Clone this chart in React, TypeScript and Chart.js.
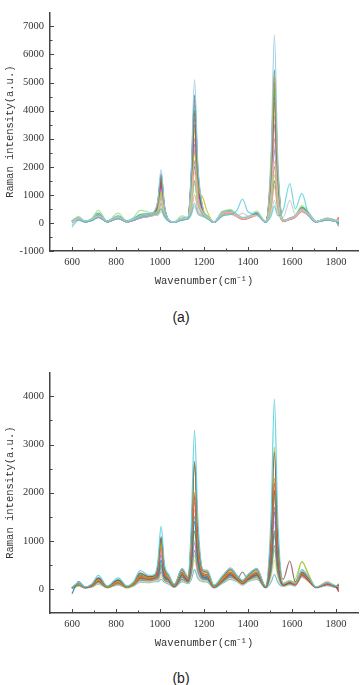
import React, { useEffect, useRef } from "react";
import { Chart, registerables } from "chart.js";
Chart.register(...registerables);

// Wavenumber sample positions (cm^-1), shared by all spectra
const wavenumbers = [600,630,660,690,720,760,810,850,880,910,950,975,990,1005,1020,1040,1065,1100,1128,1142,1157,1172,1195,1215,1245,1285,1320,1350,1375,1400,1440,1480,1505,1520,1535,1560,1590,1615,1645,1675,1710,1760,1800,1812];

// Tick values
const xMajorTicks = [600, 800, 1000, 1200, 1400, 1600, 1800];
const xMinorTicks = [700, 900, 1100, 1300, 1500, 1700];
const yMajorA = [-1000, 0, 1000, 2000, 3000, 4000, 5000, 6000, 7000];
const yMinorA = [-500, 500, 1500, 2500, 3500, 4500, 5500, 6500];
const yMajorB = [0, 1000, 2000, 3000, 4000];
const yMinorB = [500, 1500, 2500, 3500];

// ---- Panel (a) spectra ----
const a1 = [-80,200,70,150,320,60,230,60,150,260,320,420,800,1900,650,110,30,160,220,1900,5100,2100,550,260,30,420,430,300,200,230,380,40,2500,6700,2400,90,160,260,480,320,40,150,70,120];
const a2 = [60,170,50,120,280,50,200,50,130,230,300,400,740,1750,600,100,20,140,200,1700,4550,1900,480,230,20,380,420,280,170,210,350,30,2100,5450,2000,80,150,240,500,330,40,140,60,-50];
const a3 = [40,160,60,110,260,60,190,60,120,220,280,380,720,1700,580,90,30,150,190,1650,4400,1850,500,240,30,360,400,260,160,190,330,40,2000,5200,1950,90,160,250,520,340,50,150,70,150];
const a4 = [80,190,60,140,350,70,250,70,160,300,330,390,700,1650,560,100,40,170,210,1500,4000,1700,460,220,30,400,450,300,180,200,360,40,1850,4800,1800,90,170,270,560,360,50,160,80,30];
const a5 = [30,150,50,110,240,50,180,50,110,210,270,350,640,1500,520,80,20,130,180,1480,3900,1650,430,210,20,340,380,250,150,180,320,30,1900,5000,1850,70,140,230,480,310,40,130,60,200];
const a6 = [50,140,40,100,220,40,170,40,100,190,250,330,600,1400,480,70,20,120,170,1400,3700,1550,400,200,20,320,360,240,140,170,300,30,1720,4500,1680,60,130,220,450,290,40,120,50,-30];
const a7 = [70,170,60,130,300,60,220,60,140,250,290,380,680,1600,540,90,30,150,200,1330,3500,1500,420,220,30,370,410,270,160,190,340,40,1650,4300,1600,80,150,240,470,310,40,140,70,100];
const a8 = [40,130,40,90,200,40,150,40,90,170,230,300,520,1200,420,60,20,110,150,1150,3000,1300,360,180,20,300,340,220,130,160,280,30,1450,3800,1420,60,120,200,420,270,30,110,50,160];
const a9 = [20,120,40,90,210,40,160,40,100,180,240,320,560,1300,450,70,20,120,160,1070,2800,1220,370,190,20,310,350,230,140,170,290,30,1350,3500,1300,60,130,210,430,280,40,120,50,-120];
const a10 = [50,150,50,110,250,50,190,50,120,210,260,340,480,1100,400,80,30,140,170,950,2500,1300,900,400,40,380,420,260,150,180,310,40,2000,5300,1950,70,140,230,460,300,40,130,60,80];
const a11 = [-150,100,30,80,200,40,150,40,100,200,250,300,350,500,250,60,20,100,150,330,700,350,250,150,20,250,300,450,850,400,300,30,250,600,250,450,1400,500,1050,300,30,100,50,0];
const a12 = [60,160,50,120,260,50,200,50,130,220,270,330,400,900,330,80,30,150,180,850,2200,950,350,200,30,350,380,250,150,180,300,40,1050,2700,1000,80,150,230,450,290,40,130,60,50];
const a13 = [30,140,40,100,230,40,180,40,110,200,250,310,370,800,310,70,30,140,170,700,1800,800,380,200,30,330,370,240,140,170,290,40,850,2200,820,70,140,220,430,280,40,120,60,90];
const a14 = [50,230,60,160,450,60,350,60,200,450,380,350,330,600,270,60,30,250,180,560,1400,650,330,180,30,380,480,300,180,210,420,40,660,1700,640,80,160,260,620,380,50,180,70,60];
const a15 = [20,120,40,90,200,40,150,40,100,180,220,280,280,500,230,60,20,120,150,400,1000,460,280,170,20,290,330,220,130,160,270,30,500,1300,480,60,120,200,400,260,30,110,50,180];
const a16 = [40,140,40,100,220,40,170,40,110,190,230,270,270,400,200,60,20,110,140,270,600,300,220,150,20,260,300,230,350,250,260,30,330,800,320,200,800,300,500,280,40,120,60,-80];
const a17 = [50,150,50,110,240,50,190,50,120,200,260,330,450,1000,380,70,20,130,170,1250,3300,1400,400,200,20,330,370,240,140,170,300,30,1570,4100,1530,70,140,220,440,290,40,120,60,20];
const a18 = [60,160,50,120,270,50,200,50,130,220,280,370,660,1550,530,80,30,140,190,1600,4200,1800,450,220,30,360,400,260,160,190,330,40,1760,4600,1720,80,150,240,490,320,40,140,60,130];
const a19 = [40,150,50,110,240,50,180,50,110,200,260,340,580,1350,470,80,20,130,170,850,2200,970,330,190,20,330,370,240,150,180,300,30,1000,2600,980,70,140,220,440,290,40,130,60,170];
const a20 = [30,130,40,100,220,40,170,40,100,190,240,300,330,700,270,70,20,120,160,580,1500,680,300,170,20,310,350,230,140,170,280,30,770,2000,750,60,130,210,420,270,40,120,50,40];
const a21 = [50,140,40,100,230,40,170,40,110,190,240,320,400,900,330,70,20,120,160,770,2000,880,320,180,20,310,350,240,140,170,290,30,580,1500,570,60,130,210,420,270,40,120,50,110];
const a22 = [40,140,40,100,220,40,170,40,100,190,250,320,540,1250,440,70,20,120,160,1000,2600,1130,340,190,20,320,360,240,140,170,290,30,1150,3000,1120,60,130,210,430,280,40,120,50,-20];

// ---- Panel (b) spectra ----
const b1 = [30,130,40,100,280,60,230,60,150,380,280,300,560,1300,520,300,100,420,250,1300,3300,1450,400,380,80,280,430,280,180,300,420,60,1550,3950,1500,120,180,120,380,250,40,130,60,50];
const b2 = [20,120,30,80,220,50,180,50,130,330,250,280,460,1050,430,280,90,400,230,1050,2650,1180,380,350,70,250,400,260,160,280,400,50,1120,2850,1080,200,580,150,350,230,30,120,50,80];
const b3 = [30,110,30,80,200,40,160,40,120,300,240,270,440,1000,410,250,80,380,220,1030,2600,1150,350,330,60,230,380,250,150,260,380,50,1150,2950,1120,110,160,130,570,300,30,130,60,40];
const b4 = [10,100,30,70,190,40,150,40,110,280,230,260,470,1080,430,240,80,350,200,1020,2600,1150,320,300,60,210,350,230,140,240,350,50,800,2050,780,100,150,110,330,210,30,110,50,30];
const b5 = [20,100,30,70,180,40,140,40,100,250,220,250,400,900,370,220,70,330,200,800,2000,900,300,280,50,200,340,220,130,230,340,40,900,2300,880,100,150,100,320,200,30,110,50,90];
const b6 = [20,100,30,70,170,40,140,40,100,240,210,240,380,850,350,210,70,320,190,780,1950,880,290,270,50,200,330,210,130,220,330,40,860,2200,840,90,140,100,310,190,30,100,50,-60];
const b7 = [30,110,30,80,190,40,150,40,110,260,220,240,320,700,300,200,60,300,180,720,1800,800,280,260,50,190,320,210,120,210,320,40,670,1700,650,90,130,100,300,190,30,100,40,60];
const b8 = [-100,150,40,90,230,50,190,50,120,300,250,260,300,600,270,190,60,280,170,560,1400,640,250,230,40,180,300,200,120,200,300,40,630,1600,610,90,130,100,320,200,30,110,50,20];
const b9 = [20,90,30,60,160,30,130,30,90,220,200,220,260,500,240,170,50,250,160,480,1200,550,230,210,40,170,280,190,110,190,280,30,480,1200,460,80,120,90,290,180,30,100,40,70];
const b10 = [10,80,20,50,140,30,110,30,80,200,180,200,220,400,210,150,50,230,150,390,950,450,210,200,40,160,260,180,100,180,270,30,460,1150,440,70,110,80,270,170,30,90,40,110];
const b11 = [20,80,20,50,140,30,110,30,80,180,170,190,210,350,190,140,40,200,140,330,800,380,200,190,30,150,250,200,350,200,250,30,360,900,350,70,110,80,260,160,30,90,40,-40];
const b12 = [20,70,20,50,120,30,100,30,70,170,160,180,190,300,180,130,40,190,130,300,700,340,190,180,30,140,240,170,100,170,240,30,330,800,320,60,100,200,560,300,30,90,40,50];
const b13 = [10,60,20,40,110,20,90,20,60,150,140,160,170,250,160,120,40,170,120,260,600,300,170,160,30,130,220,160,90,160,220,30,250,600,240,60,100,70,240,150,20,80,30,90];
const b14 = [10,60,20,40,100,20,80,20,60,140,130,150,150,200,140,100,30,150,110,190,400,220,150,140,20,120,200,150,80,150,200,20,140,300,140,50,90,60,400,250,20,70,30,30];
const b15 = [20,100,30,70,200,40,160,40,110,270,230,250,240,450,230,200,60,300,180,600,1500,690,260,250,40,190,330,220,130,230,340,40,740,1900,720,90,140,100,330,210,30,110,50,0];
const b16 = [20,100,30,70,180,40,140,40,100,260,230,260,440,1000,400,230,70,340,200,770,1900,860,300,280,50,200,340,220,130,230,340,40,780,2000,760,90,140,100,320,200,30,110,50,100];
const b17 = [30,120,30,80,230,40,190,40,130,330,260,270,340,750,320,250,80,420,260,680,1650,780,400,390,60,260,440,290,170,290,430,50,450,1100,440,90,140,100,350,220,30,150,60,60];
const b18 = [10,90,20,60,150,30,120,30,90,220,190,210,270,550,250,170,50,260,160,420,1000,470,230,220,40,170,290,200,110,200,290,30,550,1400,540,70,110,80,280,170,30,100,40,-20];

const seriesA = [
  { color: "rgba(158,202,225,0.9)", values: a1 },
  { color: "rgba(23,190,207,0.6)", values: a11 },
  { color: "rgba(199,199,199,0.8)", values: a16 },
  { color: "rgba(152,223,138,0.8)", values: a14 },
  { color: "rgba(255,152,150,0.8)", values: a15 },
  { color: "rgba(255,187,120,0.8)", values: a13 },
  { color: "rgba(174,199,232,0.85)", values: a12 },
  { color: "rgba(188,189,34,0.8)", values: a10 },
  { color: "rgba(31,119,180,0.85)", values: a2 },
  { color: "rgba(255,127,14,0.85)", values: a3 },
  { color: "rgba(44,160,44,0.85)", values: a4 },
  { color: "rgba(214,39,40,0.85)", values: a5 },
  { color: "rgba(148,103,189,0.85)", values: a6 },
  { color: "rgba(140,86,75,0.85)", values: a7 },
  { color: "rgba(227,119,194,0.85)", values: a8 },
  { color: "rgba(127,127,127,0.85)", values: a9 },
  { color: "rgba(188,189,34,0.85)", values: a17 },
  { color: "rgba(23,190,207,0.85)", values: a18 },
  { color: "rgba(214,39,40,0.85)", values: a19 },
  { color: "rgba(148,103,189,0.85)", values: a20 },
  { color: "rgba(140,86,75,0.85)", values: a21 },
  { color: "rgba(227,119,194,0.85)", values: a22 },
];

const seriesB = [
  { color: "rgba(95,211,224,0.95)", values: b1 },
  { color: "rgba(140,86,75,0.85)", values: b2 },
  { color: "rgba(188,189,34,0.85)", values: b3 },
  { color: "rgba(255,127,14,0.85)", values: b5 },
  { color: "rgba(214,39,40,0.85)", values: b6 },
  { color: "rgba(148,103,189,0.85)", values: b7 },
  { color: "rgba(31,119,180,0.85)", values: b8 },
  { color: "rgba(44,160,44,0.85)", values: b9 },
  { color: "rgba(227,119,194,0.85)", values: b10 },
  { color: "rgba(127,127,127,0.85)", values: b11 },
  { color: "rgba(152,223,138,0.85)", values: b12 },
  { color: "rgba(219,219,141,0.85)", values: b13 },
  { color: "rgba(107,174,214,0.85)", values: b14 },
  { color: "rgba(23,190,207,0.85)", values: b15 },
  { color: "rgba(42,157,143,0.85)", values: b16 },
  { color: "rgba(255,152,150,0.85)", values: b17 },
  { color: "rgba(197,176,213,0.85)", values: b18 },
  { color: "rgba(63,111,111,0.9)", values: b4 },
];

const AXIS_COLOR = "#444";
const TEXT_COLOR = "#333";

const innerTicksPlugin = {
  id: "innerTicks",
  afterDraw(chart: any, _args: any, opts: any) {
    const { ctx, chartArea, scales } = chart;
    const x = scales.x, y = scales.y;
    ctx.save();
    ctx.strokeStyle = AXIS_COLOR;
    ctx.lineWidth = 1;
    const drawX = (vals: number[], len: number) => {
      vals.forEach((v) => {
        const px = Math.round(x.getPixelForValue(v)) + 0.5;
        ctx.beginPath();
        ctx.moveTo(px, chartArea.bottom);
        ctx.lineTo(px, chartArea.bottom - len);
        ctx.stroke();
      });
    };
    const drawY = (vals: number[], len: number) => {
      vals.forEach((v) => {
        const py = Math.round(y.getPixelForValue(v)) + 0.5;
        ctx.beginPath();
        ctx.moveTo(chartArea.left, py);
        ctx.lineTo(chartArea.left + len, py);
        ctx.stroke();
      });
    };
    drawX(opts.xMajor, 4);
    drawX(opts.xMinor, 2.5);
    drawY(opts.yMajor, 4);
    drawY(opts.yMinor, 2.5);
    ctx.restore();
  },
};

function SpectraChart(props: {
  series: { color: string; values: number[] }[];
  yMin: number;
  yMax: number;
  yMajor: number[];
  yMinor: number[];
  height: number;
  top: number;
}) {
  const ref = useRef<HTMLCanvasElement>(null);
  useEffect(() => {
    if (!ref.current) return;
    const tickFont = { family: "Liberation Serif", size: 10.5 };
    const titleFont = { family: "Liberation Mono", size: 10.5 };
    const chart = new Chart(ref.current, {
      type: "line",
      data: {
        datasets: props.series.map((s) => ({
          data: wavenumbers.map((w, i) => ({ x: w, y: s.values[i] })),
          borderColor: s.color,
          borderWidth: 1.2,
          pointRadius: 0,
          fill: false,
          cubicInterpolationMode: "monotone" as const,
        })),
      },
      options: {
        animation: false,
        responsive: false,
        devicePixelRatio: 1,
        layout: { padding: { top: 3, right: 3, left: 0, bottom: 0 } },
        plugins: {
          legend: { display: false },
          tooltip: { enabled: false },
          innerTicks: { xMajor: xMajorTicks, xMinor: xMinorTicks, yMajor: props.yMajor, yMinor: props.yMinor },
        } as any,
        scales: {
          x: {
            type: "linear",
            min: 500,
            max: 1900,
            afterBuildTicks: (s: any) => { s.ticks = xMajorTicks.map((v) => ({ value: v })); },
            afterFit: (s: any) => { s.height = 45; },
            ticks: { font: tickFont, color: TEXT_COLOR, padding: 5, maxRotation: 0, autoSkip: false, callback: (v: any) => String(v) },
            grid: { display: true, drawOnChartArea: false, drawTicks: false },
            border: { display: true, color: AXIS_COLOR, width: 1.5 },
            title: { display: true, text: "Wavenumber(cm⁻¹)", font: titleFont, color: TEXT_COLOR, padding: { top: 0, bottom: 8 } },
          },
          y: {
            type: "linear",
            min: props.yMin,
            max: props.yMax,
            afterBuildTicks: (s: any) => { s.ticks = props.yMajor.map((v) => ({ value: v })); },
            afterFit: (s: any) => { s.width = 50; },
            ticks: { font: tickFont, color: TEXT_COLOR, padding: 6, autoSkip: false, callback: (v: any) => String(v) },
            grid: { display: true, drawOnChartArea: false, drawTicks: false },
            border: { display: true, color: AXIS_COLOR, width: 1.5 },
            title: { display: true, text: "Raman intensity(a.u.)", font: titleFont, color: TEXT_COLOR, padding: { top: 4, bottom: 0 } },
          },
        },
      },
      plugins: [innerTicksPlugin],
    });
    return () => chart.destroy();
  }, []);
  return (
    <canvas
      ref={ref}
      width={361}
      height={props.height}
      style={{ position: "absolute", left: 0, top: props.top, width: 361, height: props.height }}
    />
  );
}

const captionStyle: React.CSSProperties = {
  position: "absolute",
  left: 0,
  width: 362,
  textAlign: "center",
  fontFamily: "'Liberation Sans', Arial, sans-serif",
  fontSize: 14,
  lineHeight: "16px",
  color: "#222",
};

export default function App() {
  return (
    <div style={{ position: "absolute", left: 0, top: 0, width: 361, height: 685, background: "#fff", overflow: "hidden" }}>
      <SpectraChart series={seriesA} yMin={-1000} yMax={7500} yMajor={yMajorA} yMinor={yMinorA} height={296} top={0} />
      <div style={{ ...captionStyle, top: 309 }}>(a)</div>
      <SpectraChart series={seriesB} yMin={-500} yMax={4500} yMajor={yMajorB} yMinor={yMinorB} height={298} top={360} />
      <div style={{ ...captionStyle, top: 670 }}>(b)</div>
    </div>
  );
}
